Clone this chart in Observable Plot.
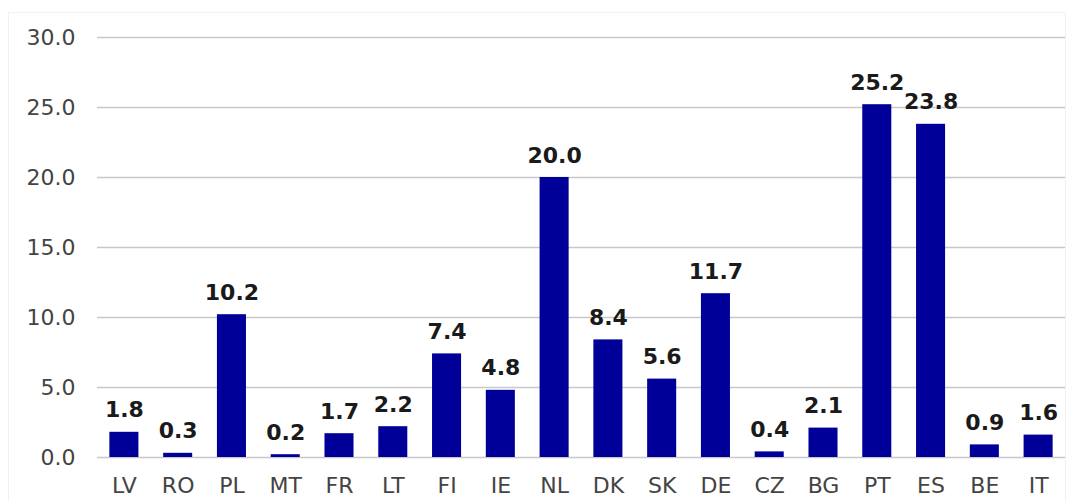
<!DOCTYPE html>
<html>
<head>
<meta charset="utf-8">
<script src="https://cdn.jsdelivr.net/npm/d3@7"></script>
<script src="https://cdn.jsdelivr.net/npm/@observablehq/plot@0.6"></script>
<style>
  html, body { margin: 0; padding: 0; background: #fff; }
  #chart { position: relative; width: 1073px; height: 501px; }
  #frame { position: absolute; left: 8px; top: 12px; width: 1058px; height: 500px; border: 1px solid #f0f0f0; box-sizing: border-box; pointer-events: none; }
</style>
</head>
<body>
<div id="chart"><div id="frame"></div></div>
<script>
const countries = ["LV","RO","PL","MT","FR","LT","FI","IE","NL","DK","SK","DE","CZ","BG","PT","ES","BE","IT"];
const values = [1.8, 0.3, 10.2, 0.2, 1.7, 2.2, 7.4, 4.8, 20.0, 8.4, 5.6, 11.7, 0.4, 2.1, 25.2, 23.8, 0.9, 1.6];
const yTicks = [0, 5, 10, 15, 20, 25, 30];

const data = countries.map((c, i) => ({country: c, value: values[i]}));

const plot = Plot.plot({
  width: 1073,
  height: 501,
  marginLeft: 97,
  marginRight: 8,
  marginTop: 37,
  marginBottom: 44,
  style: {fontFamily: "DejaVu Sans, Verdana, sans-serif", fontSize: "22px", background: "transparent", color: "#444"},
  x: {domain: countries, paddingInner: 0.46, paddingOuter: 0.23, round: false, label: null},
  y: {domain: [0, 30], label: null},
  marks: [
    Plot.gridY(yTicks, {stroke: "#c8c8c8", strokeOpacity: 1, strokeWidth: 1.5}),
    Plot.axisY(yTicks, {tickSize: 0, tickPadding: 22, tickFormat: d => d.toFixed(1), fill: "#444", fontSize: 22, label: null}),
    Plot.axisX({tickSize: 0, tickPadding: 20, fill: "#444", fontSize: 22, label: null}),
    Plot.barY(data, {x: "country", y: "value", fill: "#000099"}),
    Plot.text(data, {x: "country", y: "value", text: d => d.value.toFixed(1), lineAnchor: "bottom", dy: -15, fontWeight: "bold", fontSize: 22, fill: "#1a1a1a"})
  ]
});
plot.style.position = "absolute";
plot.style.left = "0";
plot.style.top = "0";
document.getElementById("chart").appendChild(plot);
</script>
</body>
</html>
